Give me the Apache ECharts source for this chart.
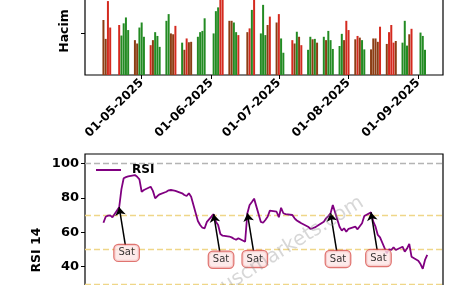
<!DOCTYPE html>
<html>
<head>
<meta charset="utf-8">
<script src="https://cdn.jsdelivr.net/npm/echarts@6/dist/echarts.min.js"></script>
<style>html,body{margin:0;padding:0;background:#fff}#c{width:451px;height:285px}</style>
</head>
<body>
<div id="c"></div>
<script>
// ---- data ----
const dates = [
 '2025-04-14','2025-04-15','2025-04-16','2025-04-17','2025-04-18',
 '2025-04-21','2025-04-22','2025-04-23','2025-04-24','2025-04-25',
 '2025-04-28','2025-04-29','2025-04-30','2025-05-01','2025-05-02',
 '2025-05-05','2025-05-06','2025-05-07','2025-05-08','2025-05-09',
 '2025-05-12','2025-05-13','2025-05-14','2025-05-15','2025-05-16',
 '2025-05-19','2025-05-20','2025-05-21','2025-05-22','2025-05-23',
 '2025-05-26','2025-05-27','2025-05-28','2025-05-29','2025-05-30',
 '2025-06-02','2025-06-03','2025-06-04','2025-06-05','2025-06-06',
 '2025-06-09','2025-06-10','2025-06-11','2025-06-12','2025-06-13',
 '2025-06-16','2025-06-17','2025-06-18','2025-06-19','2025-06-20',
 '2025-06-23','2025-06-24','2025-06-25','2025-06-26','2025-06-27',
 '2025-06-30','2025-07-01','2025-07-02','2025-07-03','2025-07-04',
 '2025-07-07','2025-07-08','2025-07-09','2025-07-10','2025-07-11',
 '2025-07-14','2025-07-15','2025-07-16','2025-07-17','2025-07-18',
 '2025-07-21','2025-07-22','2025-07-23','2025-07-24','2025-07-25',
 '2025-07-28','2025-07-29','2025-07-30','2025-07-31','2025-08-01',
 '2025-08-04','2025-08-05','2025-08-06','2025-08-07','2025-08-08',
 '2025-08-11','2025-08-12','2025-08-13','2025-08-14','2025-08-15',
 '2025-08-18','2025-08-19','2025-08-20','2025-08-21','2025-08-22',
 '2025-08-25','2025-08-26','2025-08-27','2025-08-28','2025-08-29',
 '2025-09-01','2025-09-02','2025-09-03','2025-09-04','2025-09-05'
];
const volume = [
 1.31,0.86,1.76,1.13,null,
 1.19,0.94,1.23,1.37,1.07,
 0.83,0.75,1.13,1.25,0.91,
 0.71,0.83,1.02,0.93,0.67,
 1.29,1.45,0.99,0.97,1.17,
 0.77,0.60,0.87,0.78,0.79,
 0.91,1.02,1.05,1.35,null,
 0.99,1.52,1.61,2.10,1.95,
 1.29,1.29,1.25,1.02,0.95,
 null,1.02,1.11,1.55,2.00,
 0.99,1.67,0.95,1.19,1.39,
 1.25,1.45,0.87,0.53,null,
 0.83,0.75,1.03,0.91,0.71,
 0.60,0.91,0.85,0.86,0.77,
 0.91,0.83,1.05,0.83,0.62,
 0.69,0.98,0.83,1.29,1.07,
 0.85,0.93,0.89,0.83,0.61,
 0.61,0.87,0.87,0.79,1.15,
 0.74,1.02,1.19,0.77,0.81,
 0.77,1.29,0.70,0.97,1.10,
 null,1.01,0.93,0.60,null
];
const volumeKind = [
 'b','b','r','r','',
 'r','g','g','g','g',
 'b','b','g','g','g',
 'r','b','g','g','g',
 'g','g','b','b','r',
 'g','b','r','b','b',
 'g','g','g','g','',
 'g','g','g','r','r',
 'b','b','g','g','r',
 '','b','r','g','r',
 'g','g','g','b','r',
 'b','r','g','g','',
 'r','b','g','b','r',
 'g','g','b','g','b',
 'g','b','g','g','g',
 'g','g','b','r','r',
 'b','r','b','g','g',
 'b','b','b','b','r',
 'b','r','r','r','b',
 'g','g','g','b','r',
 '','g','g','g',''
];
const rsi = [
 65.5,69.0,69.6,69.8,68.7,
 74.5,85.0,91.3,92.0,92.4,
 93.2,92.2,90.7,83.5,84.5,
 86.4,84.0,79.7,81.0,82.0,
 83.5,84.3,84.5,84.3,84.0,
 82.6,81.6,81.0,82.6,80.6,
 66.5,64.2,62.6,62.3,66.0,
 70.5,66.1,64.2,59.0,58.0,
 57.5,57.0,56.2,55.6,56.5,
 54.5,71.0,75.8,77.5,79.5,
 66.0,65.5,67.1,69.0,72.5,
 71.9,68.7,74.2,71.0,70.5,
 70.0,68.1,66.8,66.0,65.2,
 63.2,62.0,62.3,62.8,63.6,
 66.1,68.1,69.4,71.0,75.8,
 63.2,60.9,62.3,60.3,62.0,
 63.2,61.7,63.5,65.2,69.4,
 71.5,66.1,63.2,58.4,57.0,
 47.8,50.1,49.7,51.3,49.7,
 51.6,48.7,50.5,53.2,45.8,
 43.5,41.5,38.8,43.9,46.8
];
const sellDates = ['2025-04-21','2025-06-02','2025-06-17','2025-07-24','2025-08-11'];
const sellText = 'Sat';
const monthTicks = ['2025-05-01','2025-06-01','2025-07-01','2025-08-01','2025-09-01'];
const rsiTicks = [0,20,40,60,80,100];
const rsiLevels = [30,50,70];
const volumeTicks = [1];

// ---- helpers / styling ----
const DAY = 86400000;
const ts = d => Date.parse(d + 'T00:00:00Z');
const tMin = ts('2025-05-01') - 25.2 * DAY;
const tMax = ts('2025-09-12');
const colorOf = {g:'#238b23', r:'#d42a1f', b:'#8b3d14'};
const fmtDate = v => { const d = new Date(v); const p = n => String(n).padStart(2,'0');
  return p(d.getUTCDate()) + '-' + p(d.getUTCMonth()+1) + '-' + d.getUTCFullYear(); };
const FONT = 'DejaVu Sans';
const monthTs = monthTicks.map(ts);

const barData = [];
dates.forEach((d,i) => { if (volume[i] != null) barData.push({value:[ts(d), volume[i]], itemStyle:{color: colorOf[volumeKind[i]]}}); });
const rsiData = dates.map((d,i) => [ts(d), rsi[i]]);

const TXT_DT = 3.3 * DAY, TXT_DV = -26.5, FRAC = 0.84;
const labelData = [], arrowData = [];
sellDates.forEach(sd => {
  const i = dates.indexOf(sd); const t = ts(sd), v = rsi[i];
  labelData.push([t + TXT_DT, v + TXT_DV]);
  arrowData.push([{coord:[t + FRAC*TXT_DT, v + FRAC*TXT_DV]}, {coord:[t, v]}]);
});

const levelLines = [{yAxis:100, lineStyle:{color:'#b4b4b4'}}].concat(
  rsiLevels.map(l => ({yAxis:l, lineStyle:{color:'#efd688'}})));

const chart = echarts.init(document.getElementById('c'), null, {renderer:'canvas'});
chart.setOption({
  animation: false,
  backgroundColor: '#fff',
  textStyle: {fontFamily: FONT},
  grid: [
    {left:85, right:8, top:-13, height:88, show:true, borderColor:'#000', borderWidth:1.2, backgroundColor:'transparent',
     outerBoundsMode:'none', containLabel:false},
    {left:85, right:8, top:154, height:181.6, show:true, borderColor:'#000', borderWidth:1.2, backgroundColor:'transparent',
     outerBoundsMode:'none', containLabel:false}
  ],
  xAxis: [
    {type:'value', gridIndex:0, min:tMin, max:tMax, splitLine:{show:false},
     axisLine:{show:false},
     axisTick:{show:true, customValues:monthTs, length:4, lineStyle:{color:'#000', width:1}},
     axisLabel:{show:true, customValues:monthTs, rotate:45, margin:6, formatter:fmtDate,
       fontFamily:FONT, fontWeight:'bold', fontSize:12, color:'#000'}},
    {type:'value', gridIndex:1, min:tMin, max:tMax, splitLine:{show:false},
     axisLine:{show:false}, axisTick:{show:false}, axisLabel:{show:false}}
  ],
  yAxis: [
    {type:'value', gridIndex:0, min:0, max:88/42, splitLine:{show:false}, axisLine:{show:false},
     axisTick:{show:true, customValues:volumeTicks, length:4, lineStyle:{color:'#000', width:1}},
     axisLabel:{show:false}},
    {type:'value', gridIndex:1, min:0, max:105.4, splitLine:{show:false}, axisLine:{show:false},
     axisTick:{show:true, customValues:rsiTicks, length:4, lineStyle:{color:'#000', width:1}},
     axisLabel:{show:true, customValues:rsiTicks, margin:6, fontFamily:FONT, fontWeight:'bold', fontSize:13, color:'#000'}}
  ],
  legend: {
    data:['RSI'], left:96, top:164, padding:0, icon:'rect', itemWidth:25, itemHeight:2,
    textStyle:{fontFamily:FONT, fontWeight:'bold', fontSize:12, color:'#000', padding:[0,0,0,6]}
  },
  series: [
    {type:'bar', name:'Hacim', xAxisIndex:0, yAxisIndex:0, data:barData, barWidth:2, silent:true},
    {type:'line', name:'RSI', xAxisIndex:1, yAxisIndex:1, data:rsiData, symbol:'none', showSymbol:false,
     lineStyle:{color:'#800080', width:1.8}, itemStyle:{color:'#800080'}, z:3,
     markLine:{silent:true, symbol:['none','none'], label:{show:false}, z:1,
       lineStyle:{type:[6,3], width:1.3}, data:levelLines}},
    {type:'scatter', name:'sell', xAxisIndex:1, yAxisIndex:1, data:labelData, symbolSize:1,
     itemStyle:{color:'transparent'}, z:6,
     label:{show:true, position:'inside', formatter:sellText, fontFamily:FONT, fontSize:10, color:'#000',
       backgroundColor:'#fde5e5', borderColor:'#d8514c', borderWidth:1.2, borderRadius:4, padding:[2,4,2,4], lineHeight:12},
     markLine:{silent:true, symbol:['none','arrow'], symbolSize:8, label:{show:false}, z:5,
       lineStyle:{color:'#000', width:1.5, type:'solid'}, data:arrowData}}
  ],
  graphic: [
    {type:'text', x:65, y:31, rotation:Math.PI/2, style:{text:'Hacim', font:'bold 12.5px "DejaVu Sans"', fill:'#000', align:'center', verticalAlign:'middle'}},
    {type:'text', x:37, y:250, rotation:Math.PI/2, style:{text:'RSI 14', font:'bold 12.5px "DejaVu Sans"', fill:'#000', align:'center', verticalAlign:'middle'}},
    {type:'text', x:362, y:201, rotation:32*Math.PI/180, z:10, silent:true,
     style:{text:'www.uscmarkets.com', font:'20px "DejaVu Sans"', fill:'rgba(140,140,140,0.35)', align:'right', verticalAlign:'middle'}}
  ]
});
</script>
</body>
</html>
